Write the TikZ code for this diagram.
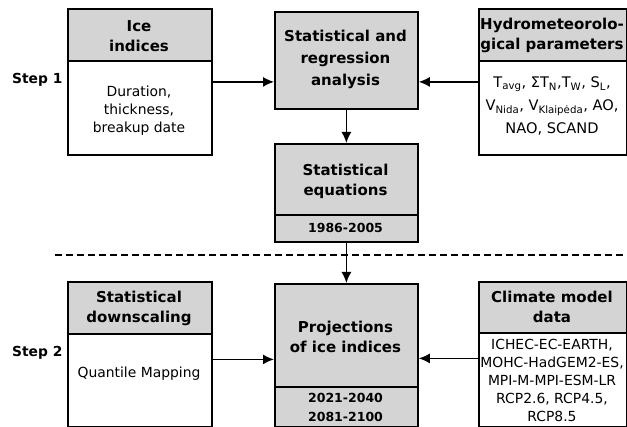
\documentclass[tikz,border=0pt]{standalone}
\usepackage{fontspec}
\setmainfont{DejaVu Sans}
\usetikzlibrary{arrows.meta}
\definecolor{hdr}{RGB}{212,212,212}
\tikzset{
  x=1pt, y=-1pt,
  box/.style={draw, line width=1.8pt, rectangle, inner sep=0pt},
  hd/.style={align=center, font=\fontsize{15}{20}\selectfont\bfseries, inner sep=0pt},
  bd/.style={align=center, font=\fontsize{13.9}{18}\selectfont, inner sep=0pt},
  steplbl/.style={font=\fontsize{13.8}{18}\selectfont\bfseries, inner sep=0pt},
  sep/.style={line width=1.6pt},
  arr/.style={line width=1.4pt, -{Latex[length=11pt,width=10pt]}},
}
\begin{document}
\begin{tikzpicture}
\useasboundingbox (0,0) rectangle (627,427);
% fills
\fill[hdr] (67,8) rectangle (211,61);
\fill[hdr] (274,11) rectangle (417,108);
\fill[hdr] (274,143) rectangle (417,241);
\fill[hdr] (478,8) rectangle (626,61);
\fill[hdr] (67,281) rectangle (211,334);
\fill[hdr] (274,283) rectangle (417,426);
\fill[hdr] (478,281) rectangle (626,333);
% boxes
\node[box, minimum width=144pt, minimum height=146pt, anchor=north west] (ice) at (67,8) {};
\node[box, minimum width=143pt, minimum height=97pt, anchor=north west] (stat) at (274,11) {};
\node[box, minimum width=143pt, minimum height=98pt, anchor=north west] (eq) at (274,143) {};
\node[box, minimum width=148pt, minimum height=146pt, anchor=north west] (hyd) at (478,8) {};
\node[box, minimum width=144pt, minimum height=145pt, anchor=north west] (ds) at (67,281) {};
\node[box, minimum width=143pt, minimum height=143pt, anchor=north west] (proj) at (274,283) {};
\node[box, minimum width=148pt, minimum height=145pt, anchor=north west] (clim) at (478,281) {};
% separators
\draw[sep] (ice.west |- 0,61) -- (ice.east |- 0,61);
\draw[sep] (eq.west |- 0,215) -- (eq.east |- 0,215);
\draw[sep] (hyd.west |- 0,61) -- (hyd.east |- 0,61);
\draw[sep] (ds.west |- 0,334) -- (ds.east |- 0,334);
\draw[sep] (proj.west |- 0,387) -- (proj.east |- 0,387);
\draw[sep] (clim.west |- 0,333) -- (clim.east |- 0,333);
% texts
\node[hd] (iceh) at (139,36) {Ice\\indices};
\node[bd] (iceb) at (139,111) {Duration,\\thickness,\\breakup date};
\node[hd, font=\fontsize{15}{22}\selectfont\bfseries] (stath) at (345.5,59) {Statistical and\\regression\\analysis};
\node[hd] (eqh) at (345.5,181) {Statistical\\equations};
\node[bd, font=\fontsize{12.5}{15}\selectfont\bfseries] (eqb) at (345.5,228) {1986-2005};
\node[hd] (hydh) at (552,35) {Hydrometeorolo-\\gical parameters};
\node[bd, font=\fontsize{14.6}{23}\selectfont] (hydb) at (552,106) {T\textsubscript{avg}, ΣT\textsubscript{N},T\textsubscript{W}, S\textsubscript{L},\\V\textsubscript{Nida}, V\textsubscript{Klaipėda}, AO,\\NAO, SCAND};
\node[hd] (dsh) at (139,308) {Statistical\\downscaling};
\node[bd] (dsb) at (139,374) {Quantile Mapping};
\node[hd] (projh) at (345.5,337) {Projections\\of ice indices};
\node[bd, font=\fontsize{12.5}{19}\selectfont\bfseries] (projb) at (345.5,407) {2021-2040\\2081-2100};
\node[hd] (climh) at (552,307) {Climate model\\data};
\node[bd] (climb) at (552,380) {ICHEC-EC-EARTH,\\MOHC-HadGEM2-ES,\\MPI-M-MPI-ESM-LR\\RCP2.6, RCP4.5,\\RCP8.5};
\node[steplbl, anchor=west] (s1) at (12,80) {Step 1};
\node[steplbl, anchor=west] (s2) at (12,353) {Step 2};
% dashed separator
\coordinate (dl) at (55,255);
\coordinate (dr) at (626,255);
\draw[line width=1.6pt, dash pattern=on 7pt off 4pt] (dl) -- (dr);
% arrows
\draw[arr] (ice.east) -- (ice.east -| stat.west);
\draw[arr] (hyd.west) -- (hyd.west -| stat.east);
\draw[arr] (stat.south) -- (eq.north);
\draw[arr] (eq.south) -- (proj.north);
\draw[arr] ([yshift=-5pt]ds.east) -- ([yshift=-5pt]ds.east -| proj.west);
\draw[arr] ([yshift=-4pt]clim.west) -- ([yshift=-4pt]clim.west -| proj.east);
\end{tikzpicture}
\end{document}
